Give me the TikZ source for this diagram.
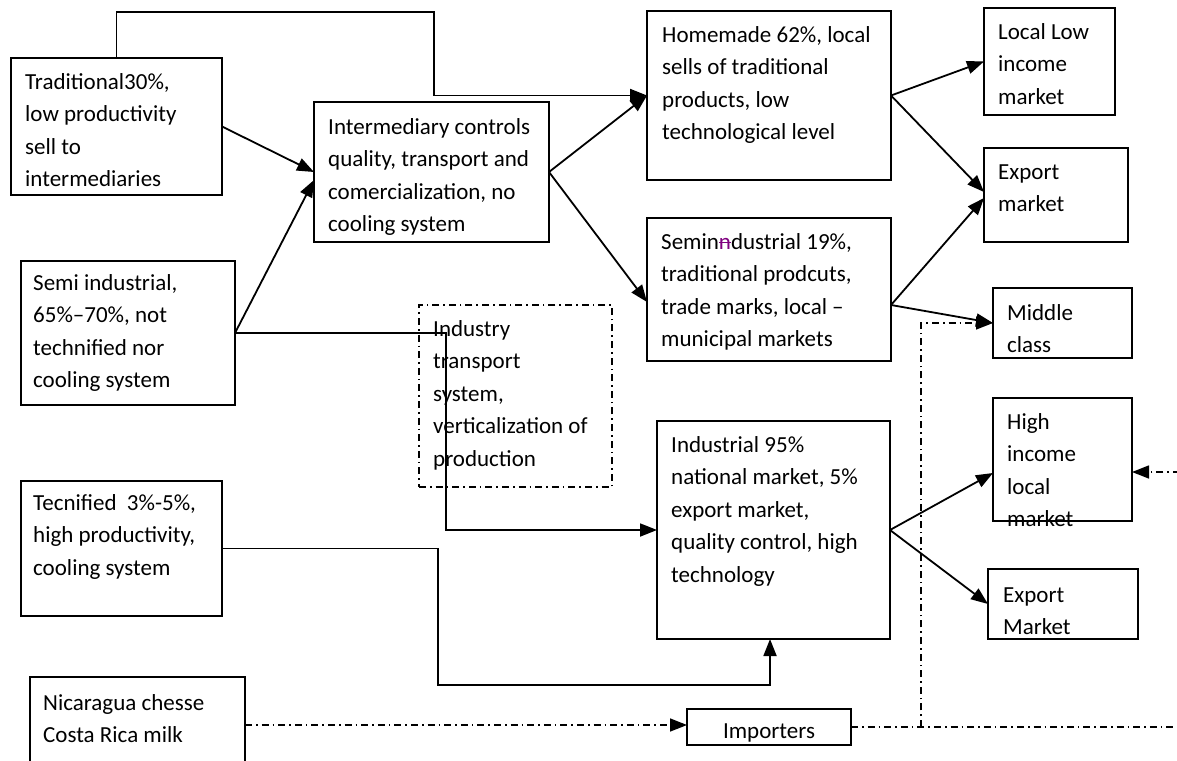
\documentclass[tikz,border=0pt]{standalone}
\usepackage{fontspec}
\setmainfont{Carlito}
\usetikzlibrary{arrows.meta}
\definecolor{trackpurple}{RGB}{128,0,128}
\newcommand\fsz{\fontsize{23}{32.5}\selectfont}
\newcommand\strk[1]{\setbox0\hbox{#1}\rlap{\rule[0.28em]{\wd0}{1pt}}\box0}
\begin{document}
\begin{tikzpicture}[x=1pt,y=1pt,
  box/.style={draw=black, line width=1.9pt, inner sep=0pt, outer sep=0pt},
  ddbox/.style={box, line width=1.6pt, dash pattern=on 7pt off 4pt on 1.6pt off 4pt},
  txt/.style={anchor=north west, inner sep=0pt, align=left, font=\fsz, yshift=-2pt},
  conn/.style={line width=1.8pt},
  arr/.style={conn, -{Triangle[length=17pt,width=13pt]}},
  dd/.style={line width=1.5pt, dash pattern=on 7pt off 4pt on 1.6pt off 4pt}]
\useasboundingbox (0,0) rectangle (1177,-760);
\clip (0,0) rectangle (1177,-760);
\fill[white] (0,0) rectangle (1177,-760);

% boxes
\node[box, minimum width=211, minimum height=137] (trad) at (116.5,-126.5) {};
\node[box, minimum width=214, minimum height=144] (semi) at (128,-333) {};
\node[box, minimum width=201, minimum height=135] (tec) at (121.5,-548.5) {};
\node[box, minimum width=215, minimum height=96] (nic) at (137.5,-725) {};
\node[box, minimum width=235, minimum height=140] (interm) at (431.5,-172) {};
\node[box, minimum width=244, minimum height=169] (home) at (769,-95.5) {};
\node[box, minimum width=244, minimum height=143] (semiind) at (769,-289.5) {};
\node[ddbox, minimum width=193, minimum height=182] (industry) at (515.5,-396) {};
\node[box, minimum width=233, minimum height=218] (industrial) at (773.5,-530) {};
\node[box, minimum width=131, minimum height=107] (lowinc) at (1049.5,-61.5) {};
\node[box, minimum width=144, minimum height=94] (exp1) at (1056,-195) {};
\node[box, minimum width=139, minimum height=70] (middle) at (1062.5,-323) {};
\node[box, minimum width=139, minimum height=123] (high) at (1062.5,-459.5) {};
\node[box, minimum width=150, minimum height=70] (exp2) at (1063,-604) {};
\node[box, minimum width=164, minimum height=36] (imp) at (769,-727) {};

% texts
\node[txt] (tradT) at (25,-64.25) {\strut Traditional30\%,\\low productivity\\sell to\\intermediaries};
\node[txt] (semiT) at (33,-265.25) {\strut Semi industrial,\\65\%–70\%, not\\technified nor\\cooling system};
\node[txt] (tecT) at (33,-485.25) {\strut Tecnified\ \ 3\%-5\%,\\high productivity,\\cooling system};
\node[txt] (nicT) at (43,-685.25) {\strut Nicaragua chesse\\Costa Rica milk};
\node[txt] (intermT) at (328,-109.25) {\strut Intermediary controls\\quality, transport and\\comercialization, no\\cooling system};
\node[txt] (homeT) at (662,-17.25) {\strut Homemade 62\%, local\\sells of traditional\\products, low\\technological level};
\node[txt] (semiindT) at (661,-224.25) {\strut Semin{\color{trackpurple}\strk{n}}dustrial 19\%,\\traditional prodcuts,\\trade marks, local –\\municipal markets};
\node[txt] (industryT) at (433,-311.25) {\strut Industry\\transport\\system,\\verticalization of\\production};
\node[txt] (industrialT) at (671,-427.25) {\strut Industrial 95\%\\national market, 5\%\\export market,\\quality control, high\\technology};
\node[txt] (lowincT) at (998,-14.25) {\strut Local Low\\income\\market};
\node[txt] (exp1T) at (998,-154.25) {\strut Export\\market};
\node[txt] (middleT) at (1007,-295.25) {\strut Middle\\class};
\node[txt] (highT) at (1007,-404.25) {\strut High\\income\\local\\market};
\node[txt] (exp2T) at (1003,-577.25) {\strut Export\\Market};
\node[anchor=base, inner sep=0pt, font=\fsz] (impT) at (769,-738) {Importers};

% solid connectors
\draw[arr] (trad.north) |- (434,-12) |- (home.west);
\draw[arr] (trad.east) -- (interm.west);
\draw[arr] (semi.east) -- ([yshift=-8]interm.west);
\draw[arr] (semi.east) -| ([xshift=-211]industrial.west) -- (industrial.west);
\draw[arr] (tec.east) -| (438,-685) -| ([xshift=-3.5]industrial.south);
\draw[arr] (interm.east) -- (home.west);
\draw[arr] (interm.east) -- ([yshift=-12.5]semiind.west);
\draw[arr] (home.east) -- (lowinc.west);
\draw[arr] (home.east) -- ([yshift=3]exp1.west);
\draw[arr] ([yshift=-15.5]semiind.east) -- ([yshift=-3]exp1.west);
\draw[arr] ([yshift=-15.5]semiind.east) -- (middle.west);
\draw[arr] (industrial.east) -- ([yshift=-13.5]high.west);
\draw[arr] (industrial.east) -- (exp2.west);

% dash-dot connectors
\coordinate (edgeA) at (1180,-727);
\coordinate (edgeB) at (1180,-472);
\draw[arr, dd] (nic.east) -- (imp.west |- nic.east);
\draw[dd] (imp.east) -- (edgeA);
\draw[arr, dd] ([xshift=70]imp.east) |- (middle.west);
\draw[arr, dd] (edgeB) -- (high.east |- edgeB);
\end{tikzpicture}
\end{document}
